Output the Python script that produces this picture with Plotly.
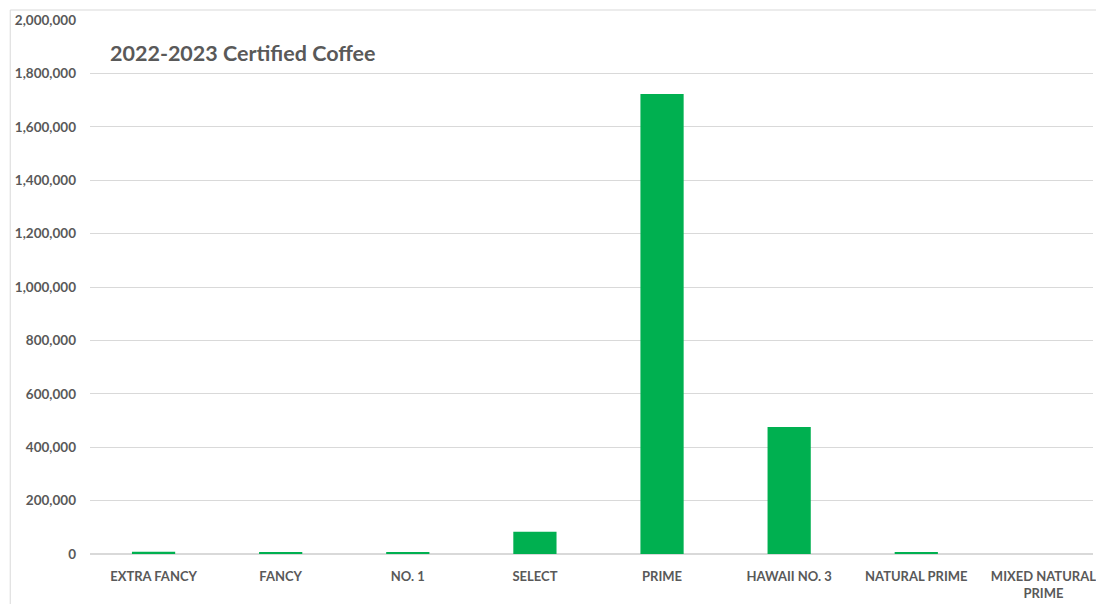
import plotly.graph_objects as go

categories = ["EXTRA FANCY", "FANCY", "NO. 1", "SELECT", "PRIME",
              "HAWAII NO. 3", "NATURAL PRIME", "MIXED NATURAL<br>PRIME"]
pounds = [8000, 7000, 7000, 83000, 1723000, 476000, 7000, 0]
y_ticks = [0, 200000, 400000, 600000, 800000, 1000000, 1200000,
           1400000, 1600000, 1800000, 2000000]
y_tick_labels = ["{:,}".format(v) for v in y_ticks]
title_text = "2022-2023 Certified Coffee"

W, H = 1096, 604
L, R, T, B = 90, 0, 20, 50
pw = W - L - R
ph = H - T - B

fig = go.Figure()
fig.add_trace(go.Bar(
    x=list(range(len(categories))), y=pounds,
    marker=dict(color="#00B050", line=dict(width=0)),
    width=0.34, hoverinfo="skip",
))

fig.update_layout(
    width=W, height=H,
    margin=dict(l=L, r=R, t=T, b=B, pad=0),
    paper_bgcolor="white", plot_bgcolor="white",
    showlegend=False,
    font=dict(family="Lato", color="#595959"),
)
fig.update_xaxes(
    tickmode="array", tickvals=list(range(len(categories))), ticktext=categories,
    range=[-0.5, -0.5 + pw / 127.5],
    showgrid=False, zeroline=False, showline=False,
    ticks="", ticklabelstandoff=13, ticklabeloverflow="allow",
    tickfont=dict(family="Lato", size=13, color="#595959", weight="bold"),
)
fig.update_yaxes(
    tickmode="array", tickvals=y_ticks, ticktext=y_tick_labels,
    range=[0, 2000000],
    showgrid=True, gridcolor="#D9D9D9", gridwidth=1,
    zeroline=True, zerolinecolor="#D9D9D9", zerolinewidth=1.5,
    showline=False, ticks="", ticklabelstandoff=13,
    tickfont=dict(family="Lato", size=13.5, color="#595959", weight="bold"),
)

# Chart border (top and left edges visible in the crop)
bx = (10 - L) / pw
by = 1 + (T - 10) / ph
fig.add_shape(type="line", xref="paper", yref="paper",
              x0=bx, x1=1.2, y0=by, y1=by,
              line=dict(color="#D9D9D9", width=1))
fig.add_shape(type="line", xref="paper", yref="paper",
              x0=bx, x1=bx, y0=by, y1=-0.2,
              line=dict(color="#D9D9D9", width=1))

fig.add_annotation(
    text=title_text, xref="paper", yref="paper",
    x=(108 - L) / pw, y=1 - (53 - T) / ph,
    xanchor="left", yanchor="middle", showarrow=False,
    font=dict(family="Lato", size=21.5, color="#595959", weight="bold"),
)

fig.write_html("out.html", config={"displayModeBar": False},
               post_script="document.body.style.margin='0';document.body.style.overflow='hidden';")
